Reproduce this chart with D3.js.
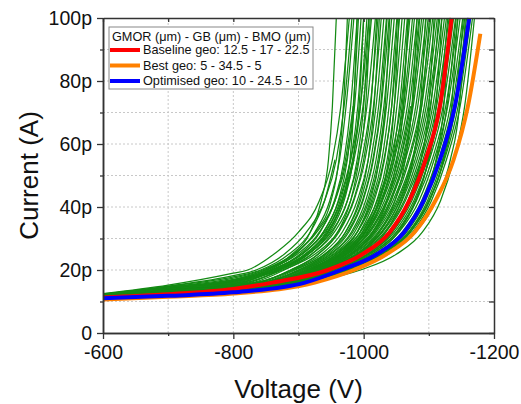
<!DOCTYPE html>
<html>
<head>
<meta charset="utf-8">
<script src="https://cdn.jsdelivr.net/npm/d3@7"></script>
<style>
  body { margin: 0; background: #fff; }
  svg text { font-family: Arial, "Liberation Sans", sans-serif; fill: #111; }
</style>
</head>
<body>
<svg id="chart" width="521" height="404"></svg>
<script>
// I-V sweeps (current in pA). Each green row:
//   currents at lowV, then the voltage where the sweep crosses each of levelI (null = not reached)
const lowV   = [-600, -700, -800];
const levelI = [16, 20, 25, 32, 42, 55, 72, 100];

const greenCurves = [
  // early breakdown
  [12.5, 15.2, 19.0, null, -822, -862, -900, -932, -952, -965, -978],
  [12.3, 14.6, 17.0, null, -848, -890, -918, -935, -946, -952, -958],
  [12.4, 14.9, 18.2, null, -835, -878, -912, -940, -958, -970, -982],
  [12.2, 14.5, 16.8, null, -855, -895, -925, -948, -963, -973, -985],
  [12.1, 14.3, 16.4, null, -860, -902, -933, -955, -970, -980, -990],
  [12.2, 14.4, 16.5, null, -852, -893, -928, -956, -974, -986, -996],
  [12.0, 14.1, 15.9, -805, -865, -910, -942, -964, -980, -991, -1000],
  [12.1, 14.2, 16.2, null, -858, -905, -940, -966, -983, -995, -1005],
  [12.0, 14.2, 16.3, null, -870, -915, -946, -967, -979, -985, -990],
  [11.9, 14.0, 15.8, -808, -868, -915, -948, -970, -984, -993, -1000],
  [12.2, 14.6, 17.4, null, -845, -892, -926, -950, -962, -969, -975],
  [12.0, 14.3, 16.6, null, -858, -905, -938, -961, -975, -984, -992],
  [11.9, 14.1, 16.1, null, -866, -914, -950, -975, -990, -1000, -1008],
  // middle
  [11.9, 13.9, 15.6, -815, -860, -905, -938, -962, -980, -995, -1008],
  [11.8, 13.7, 15.2, -840, -888, -930, -960, -980, -993, -1003, -1010],
  [11.9, 13.8, 15.4, -825, -870, -912, -945, -968, -985, -999, -1012],
  [11.8, 13.7, 15.3, -830, -878, -920, -952, -975, -992, -1005, -1018],
  [11.8, 13.8, 15.6, -818, -875, -925, -960, -984, -1000, -1011, -1020],
  [11.8, 13.8, 15.5, -820, -872, -920, -955, -980, -997, -1010, -1022],
  [11.7, 13.6, 15.0, -850, -900, -942, -972, -993, -1007, -1016, -1024],
  [11.7, 13.6, 15.1, -838, -888, -930, -962, -985, -1002, -1015, -1027],
  [11.8, 13.6, 15.2, -835, -890, -935, -967, -990, -1007, -1019, -1031],
  [11.7, 13.5, 15.0, -845, -895, -940, -972, -995, -1011, -1023, -1035],
  [11.7, 13.6, 15.2, -835, -893, -940, -975, -998, -1014, -1026, -1036],
  [11.6, 13.4, 14.7, -862, -915, -958, -990, -1010, -1024, -1033, -1040],
  [11.6, 13.4, 14.9, -850, -900, -945, -977, -999, -1015, -1027, -1039],
  [11.7, 13.5, 14.9, -848, -902, -948, -981, -1003, -1019, -1031, -1043],
  [11.6, 13.4, 14.8, -855, -908, -953, -986, -1008, -1024, -1035, -1047],
  [11.6, 13.3, 14.7, -860, -912, -958, -990, -1012, -1028, -1039, -1051],
  [11.6, 13.5, 14.9, -845, -905, -955, -990, -1014, -1031, -1043, -1052],
  [11.5, 13.3, 14.6, -870, -925, -970, -1002, -1023, -1038, -1047, -1054],
  [11.5, 13.3, 14.7, -862, -916, -962, -994, -1016, -1032, -1043, -1055],
  [11.5, 13.2, 14.6, -866, -920, -966, -998, -1020, -1036, -1047, -1059],
  [11.5, 13.2, 14.6, -868, -922, -969, -1002, -1024, -1040, -1051, -1063],
  [11.4, 13.1, 14.5, -872, -926, -973, -1006, -1028, -1044, -1055, -1067],
  [11.4, 13.2, 14.5, -878, -935, -982, -1014, -1036, -1051, -1061, -1068],
  [11.5, 13.3, 14.7, -855, -915, -965, -1002, -1028, -1046, -1059, -1069],
  // late breakdown
  [11.4, 13.1, 14.5, -856, -911, -959, -995, -1021, -1041, -1057, -1071],
  [11.4, 13.0, 14.4, -858, -914, -962, -998, -1024, -1044, -1061, -1075],
  [11.3, 13.0, 14.4, -859, -915, -963, -1000, -1026, -1047, -1063, -1078],
  [11.4, 13.0, 14.3, -860, -918, -966, -1003, -1029, -1050, -1067, -1082],
  [11.4, 13.0, 14.3, -880, -942, -990, -1024, -1048, -1064, -1074, -1082],
  [11.3, 12.9, 14.3, -861, -920, -968, -1005, -1032, -1053, -1070, -1085],
  [11.4, 13.1, 14.5, -865, -926, -978, -1016, -1042, -1061, -1075, -1086],
  [11.3, 12.9, 14.2, -863, -922, -970, -1008, -1035, -1056, -1074, -1089],
  [11.2, 12.8, 14.2, -864, -924, -972, -1010, -1037, -1059, -1076, -1092],
  [11.3, 12.9, 14.2, -884, -948, -998, -1034, -1058, -1076, -1087, -1095],
  [11.2, 12.8, 14.1, -865, -926, -974, -1013, -1040, -1062, -1080, -1096],
  [11.3, 12.8, 14.1, -865, -927, -975, -1014, -1042, -1064, -1083, -1099],
  [11.3, 13.0, 14.3, -872, -936, -990, -1028, -1055, -1075, -1089, -1101],
  [11.2, 12.7, 14.0, -866, -929, -978, -1017, -1045, -1068, -1087, -1103],
  [11.1, 12.7, 14.0, -866, -931, -980, -1019, -1048, -1070, -1089, -1106],
  [11.2, 12.8, 14.0, -888, -954, -1006, -1044, -1070, -1088, -1100, -1108],
  [11.2, 12.6, 13.9, -868, -933, -982, -1022, -1051, -1074, -1093, -1110],
  [11.1, 12.6, 13.9, -868, -934, -984, -1024, -1053, -1076, -1096, -1113],
  [11.2, 12.8, 14.1, -878, -945, -1000, -1040, -1068, -1088, -1103, -1115],
  [11.1, 12.6, 13.8, -869, -936, -987, -1027, -1056, -1079, -1099, -1117],
  [11.0, 12.5, 13.8, -870, -938, -989, -1029, -1059, -1082, -1102, -1120],
  [11.1, 12.7, 13.9, -892, -960, -1013, -1053, -1080, -1099, -1111, -1120],
  [11.1, 12.5, 13.7, -871, -940, -991, -1032, -1062, -1085, -1106, -1124],
  [11.0, 12.4, 13.7, -872, -942, -993, -1034, -1064, -1088, -1109, -1127],
  [11.1, 12.7, 13.9, -884, -953, -1008, -1050, -1079, -1100, -1116, -1129],
  [11.0, 12.4, 13.6, -873, -944, -996, -1038, -1068, -1091, -1112, -1131],
  [11.0, 12.6, 13.8, -896, -966, -1020, -1062, -1091, -1111, -1123, -1132],
  [10.9, 12.3, 13.6, -874, -946, -998, -1040, -1070, -1094, -1115, -1134],
  [11.0, 12.3, 13.5, -878, -950, -1002, -1044, -1074, -1098, -1119, -1138],
  [10.9, 12.3, 13.5, -881, -953, -1005, -1047, -1077, -1101, -1122, -1141],
  [11.0, 12.5, 13.7, -890, -961, -1017, -1060, -1090, -1112, -1128, -1142],
  [11.0, 12.5, 13.7, -900, -972, -1028, -1071, -1101, -1122, -1135, -1144],
  [10.9, 12.2, 13.4, -885, -958, -1010, -1051, -1081, -1105, -1126, -1145],
  [10.8, 12.2, 13.4, -888, -961, -1013, -1054, -1085, -1108, -1129, -1148],
  [10.8, 12.1, 13.3, -892, -966, -1018, -1059, -1089, -1112, -1133, -1152],
  [10.9, 12.4, 13.5, -897, -970, -1026, -1069, -1100, -1123, -1140, -1153],
  [10.8, 12.1, 13.3, -895, -970, -1022, -1063, -1092, -1115, -1136, -1155],
  [10.9, 12.3, 13.5, -904, -978, -1036, -1080, -1111, -1133, -1147, -1156],
  [10.7, 12.0, 13.2, -898, -974, -1026, -1066, -1095, -1118, -1139, -1158],
  [10.7, 12.0, 13.2, -901, -978, -1030, -1069, -1098, -1121, -1142, -1161],
  [10.7, 11.9, 13.1, -904, -982, -1034, -1072, -1101, -1124, -1145, -1164],
  [10.6, 11.9, 13.1, -907, -986, -1037, -1075, -1104, -1127, -1148, -1167],
  [10.6, 11.8, 12.9, -915, -995, -1050, -1090, -1118, -1138, -1155, -1170],
  // sweeps stopped before 100p
  [12.3, 14.8, 17.8, null, -842, -885, -918, -940, -956, null, null],
  [12.1, 14.4, 16.9, null, -850, -898, -932, -956, -972, -984, null],
  [11.9, 14.0, 15.9, -803, -862, -910, -944, -968, -985, null, null],
  [11.6, 13.4, 14.8, -852, -905, -950, -983, -1006, -1022, -1034, null],
  [11.3, 12.9, 14.3, -862, -922, -970, -1008, -1035, -1056, -1072, null]
];

// highlighted geometries (explicit V / I points)
const baselineV  = [-600, -700, -800, -860, -945, -998, -1040, -1070, -1095, -1117, -1135];
const baselineI  = [11.3, 12.3, 14.0, 16, 20, 25, 32, 42, 55, 72, 100];
const optimisedV = [-600, -700, -800, -910, -965, -1020, -1062, -1092, -1117, -1140, -1162];
const optimisedI = [11.0, 11.8, 12.9, 16, 20, 25, 32, 42, 55, 72, 100];
const bestV      = [-600, -700, -800, -925, -985, -1035, -1078, -1110, -1138, -1160, -1179];
const bestI      = [10.6, 11.5, 12.5, 16, 20, 25, 32, 42, 55, 72, 95];

const legendTitle  = 'GMOR (\u03bcm) - GB (\u03bcm) - BMO (\u03bcm)';
const legendLabels = ['Baseline geo: 12.5 - 17 - 22.5', 'Best geo: 5 - 34.5 - 5', 'Optimised geo: 10 - 24.5 - 10'];
const legendColors = ['#ff0000', '#ff8000', '#0000ff'];

const xMajor = [-600, -800, -1000, -1200];
const xMinor = [-700, -900, -1100];
const yMajor = [0, 20, 40, 60, 80, 100];
const yMinor = [10, 30, 50, 70, 90];

const margin = { top: 18, right: 27, bottom: 71, left: 103 };
const W = 521, H = 404;
const svg = d3.select('#chart');

const x = d3.scaleLinear().domain([-600, -1200]).range([margin.left, W - margin.right]);
const y = d3.scaleLinear().domain([0, 100]).range([H - margin.bottom, margin.top]);

// grid
const grid = svg.append('g').attr('stroke', '#c8c8c8').attr('stroke-width', 1).attr('stroke-dasharray', '2,2');
xMajor.concat(xMinor).filter(v => v !== -600 && v !== -1200).forEach(v => {
  grid.append('line').attr('x1', x(v)).attr('x2', x(v)).attr('y1', y(0)).attr('y2', y(100));
});
yMajor.concat(yMinor).filter(v => v !== 0 && v !== 100).forEach(v => {
  grid.append('line').attr('x1', x(-600)).attr('x2', x(-1200)).attr('y1', y(v)).attr('y2', y(v));
});

svg.append('clipPath').attr('id', 'plot-clip').append('rect')
  .attr('x', x(-600)).attr('y', y(100) - 1)
  .attr('width', x(-1200) - x(-600)).attr('height', y(0) - y(100) + 1);

const plot = svg.append('g').attr('clip-path', 'url(#plot-clip)');

const line = d3.line()
  .x(d => x(d[0]))
  .y(d => y(d[1]))
  .curve(d3.curveMonotoneX);

// row -> [V, I] points: low-voltage currents, then level crossings above the -800 V current
function rowPoints(row) {
  const pts = lowV.map((v, i) => [v, row[i]]);
  levelI.forEach((lvl, k) => {
    const v = row[3 + k];
    if (v != null && lvl > row[2]) pts.push([v, lvl]);
  });
  return pts;
}
const pairs = (vs, is) => is.map((c, i) => [vs[i], c]);

plot.selectAll('path.green').data(greenCurves).join('path')
  .attr('class', 'green')
  .attr('fill', 'none')
  .attr('stroke', '#138a13')
  .attr('stroke-width', 1.25)
  .attr('d', d => line(rowPoints(d)));

// orange, red, blue drawn last (blue on top)
[[bestV, bestI, legendColors[1]],
 [baselineV, baselineI, legendColors[0]],
 [optimisedV, optimisedI, legendColors[2]]].forEach(([vs, is, col]) => {
  plot.append('path')
    .attr('fill', 'none')
    .attr('stroke', col)
    .attr('stroke-width', 4)
    .attr('d', line(pairs(vs, is)));
});

// axes
const axisCol = '#333';
const fmtY = d => d === 0 ? '0' : d + 'p';
const fmtX = d => String(d);

function styleAxis(g) {
  g.selectAll('.domain').attr('stroke', axisCol).attr('stroke-width', 1.5);
  g.selectAll('.tick line').attr('stroke', axisCol).attr('stroke-width', 1.3);
  g.selectAll('.tick text').attr('font-size', '19.5px').attr('fill', '#111');
}

svg.append('g').attr('transform', `translate(0,${y(0)})`)
  .call(d3.axisBottom(x).tickValues(xMajor).tickSize(6).tickPadding(6).tickFormat(fmtX).tickSizeOuter(0))
  .call(styleAxis);
svg.append('g').attr('transform', `translate(0,${y(0)})`)
  .call(d3.axisBottom(x).tickValues(xMinor).tickSize(3).tickFormat('').tickSizeOuter(0))
  .call(styleAxis);
svg.append('g').attr('transform', `translate(${x(-600)},0)`)
  .call(d3.axisLeft(y).tickValues(yMajor).tickSize(6).tickPadding(5).tickFormat(fmtY).tickSizeOuter(0))
  .call(styleAxis);
svg.append('g').attr('transform', `translate(${x(-600)},0)`)
  .call(d3.axisLeft(y).tickValues(yMinor).tickSize(3).tickFormat('').tickSizeOuter(0))
  .call(styleAxis);
svg.append('g').attr('transform', `translate(0,${y(100)})`)
  .call(d3.axisTop(x).tickValues(xMajor.concat(xMinor)).tickSize(-4).tickFormat('').tickSizeOuter(0))
  .call(styleAxis);
svg.append('g').attr('transform', `translate(${x(-1200)},0)`)
  .call(d3.axisRight(y).tickValues(yMajor.concat(yMinor)).tickSize(-5).tickFormat('').tickSizeOuter(0))
  .call(styleAxis);

// axis titles
svg.append('text')
  .attr('x', (x(-600) + x(-1200)) / 2).attr('y', 398)
  .attr('text-anchor', 'middle').attr('font-size', '26px')
  .text('Voltage (V)');
svg.append('text')
  .attr('transform', `translate(38,${(y(0) + y(100)) / 2}) rotate(-90)`)
  .attr('text-anchor', 'middle').attr('font-size', '26px')
  .text('Current (A)');

// legend
const lg = svg.append('g').attr('transform', 'translate(109,27)');
lg.append('rect').attr('width', 204).attr('height', 62)
  .attr('fill', '#fff').attr('stroke', '#888').attr('stroke-width', 1);
lg.append('text').attr('x', 3).attr('y', 14).attr('font-size', '12.7px').text(legendTitle);
legendLabels.forEach((lab, i) => {
  const cy = 23 + i * 15.5;
  lg.append('line').attr('x1', 1).attr('x2', 31).attr('y1', cy).attr('y2', cy)
    .attr('stroke', legendColors[i]).attr('stroke-width', 4);
  lg.append('text').attr('x', 34).attr('y', cy).attr('dy', '0.35em')
    .attr('font-size', '12.7px').text(lab);
});
</script>
</body>
</html>
